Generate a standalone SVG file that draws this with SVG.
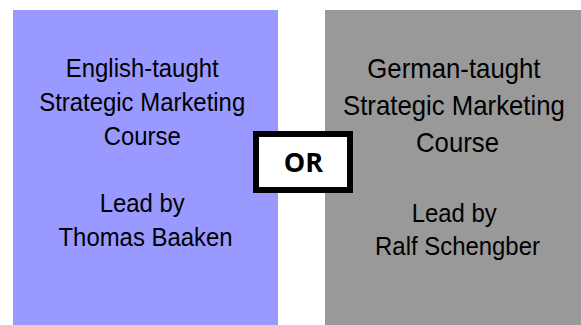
<svg xmlns="http://www.w3.org/2000/svg" width="581" height="325" viewBox="0 0 581 325">
  <style>
    .label { font-family: "Liberation Sans", Arial, sans-serif; fill: #000; text-anchor: middle; }
    .big { font-size: 28px; }
    .small { font-size: 26px; }
    .or { font-family: "Open Sans", "Liberation Sans", sans-serif; font-weight: bold; font-size: 27px; fill: #000; text-anchor: middle; }
  </style>
  <rect width="581" height="325" fill="#ffffff"/>

  <g id="english-course">
    <rect x="13" y="10" width="265" height="315" fill="#9999ff"/>
    <!-- slightly condensed lettering: horizontal scale 0.92 -->
    <text class="label small" transform="scale(0.92 1)">
      <tspan x="158.2" y="77">English-taught</tspan>
      <tspan x="158.2" y="111">Strategic Marketing</tspan>
      <tspan x="158.2" y="145">Course</tspan>
      <tspan x="158.2" y="212">Lead by</tspan>
      <tspan x="158.2" y="246">Thomas Baaken</tspan>
    </text>
  </g>

  <g id="german-course">
    <rect x="325" y="10" width="256" height="315" fill="#999999"/>
    <text class="label big" transform="scale(0.92 1)">
      <tspan x="497.3" y="78">German-taught</tspan>
      <tspan x="497.3" y="115">Strategic Marketing</tspan>
      <tspan x="497.3" y="152">Course</tspan>
    </text>
    <text class="label small" transform="scale(0.92 1)">
      <tspan x="497.3" y="222">Lead by</tspan>
      <tspan x="497.3" y="255">Ralf Schengber</tspan>
    </text>
  </g>

  <g id="or-choice">
    <rect x="256" y="134" width="94" height="56" fill="#ffffff" stroke="#000000" stroke-width="6"/>
    <text class="or" x="303.5" y="172">OR</text>
  </g>
</svg>
